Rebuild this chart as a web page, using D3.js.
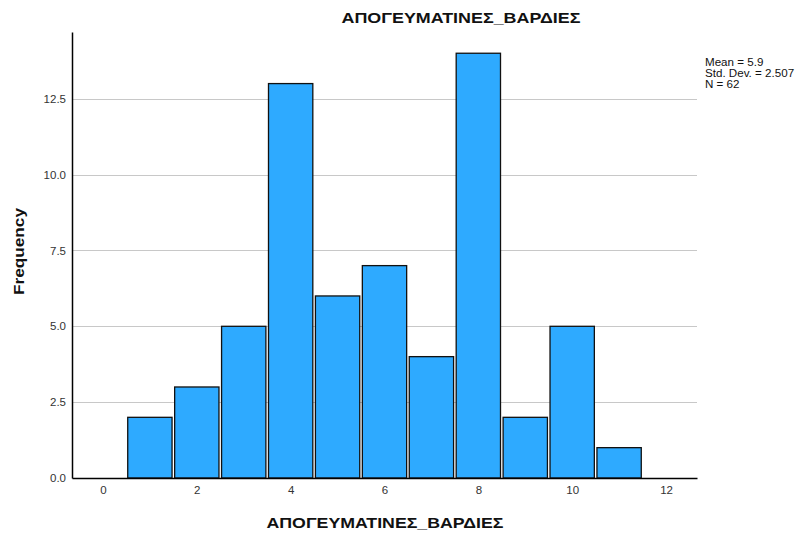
<!DOCTYPE html>
<html>
<head>
<meta charset="utf-8">
<script src="https://cdn.jsdelivr.net/npm/d3@7"></script>
<style>
  html, body { margin: 0; padding: 0; background: #fff; }
  svg { display: block; font-family: Arial, "Liberation Sans", sans-serif; }
</style>
</head>
<body>
<svg id="chart" width="798" height="536"></svg>
<script>
// Histogram data: value bins and their frequencies
const binValues = [1, 2, 3, 4, 5, 6, 7, 8, 9, 10, 11];
const frequencies = [2, 3, 5, 13, 6, 7, 4, 14, 2, 5, 1];
const xTicks = [0, 2, 4, 6, 8, 10, 12];
const yTicks = [0, 2.5, 5, 7.5, 10, 12.5];
const statsLines = ["Mean = 5.9", "Std. Dev. = 2.507", "N = 62"];
const titleText = "ΑΠΟΓΕΥΜΑΤΙΝΕΣ_ΒΑΡΔΙΕΣ";
const yLabel = "Frequency";

const svg = d3.select("#chart");
const plot = { left: 72, right: 697, top: 32, bottom: 478 };

const x = d3.scaleLinear().domain([-0.66, 12.66]).range([plot.left, plot.right]);
const y = d3.scaleLinear().domain([0, 14.7]).range([plot.bottom, plot.top]);

// Horizontal grid lines
svg.append("g")
  .selectAll("line")
  .data(yTicks.filter(d => d > 0))
  .join("line")
  .attr("x1", plot.left).attr("x2", plot.right)
  .attr("y1", d => Math.round(y(d)) + 0.5).attr("y2", d => Math.round(y(d)) + 0.5)
  .attr("stroke", "#c8c8c8").attr("stroke-width", 1);

// Bars
const unit = x(1) - x(0);
const barW = unit - 2.6;
svg.append("g")
  .selectAll("rect")
  .data(binValues.map((v, i) => ({ v, f: frequencies[i] })))
  .join("rect")
  .attr("x", d => x(d.v) - barW / 2)
  .attr("width", barW)
  .attr("y", d => y(d.f))
  .attr("height", d => y(0) - y(d.f))
  .attr("fill", "#2eaaff")
  .attr("stroke", "#111")
  .attr("stroke-width", 1.3);

// Axes
const xAxis = d3.axisBottom(x).tickValues(xTicks).tickSize(0).tickPadding(8).tickFormat(d3.format("d"));
const gx = svg.append("g").attr("transform", `translate(0,${plot.bottom})`).call(xAxis);
gx.select(".domain").attr("stroke", "#000").attr("stroke-width", 1.5);
gx.selectAll("text").attr("font-size", 11.5).attr("fill", "#333").attr("font-family", "Arial, 'Liberation Sans', sans-serif");

const yAxis = d3.axisLeft(y).tickValues(yTicks).tickSize(0).tickPadding(6).tickFormat(d3.format(".1f"));
const gy = svg.append("g").attr("transform", `translate(${plot.left},0)`).call(yAxis);
gy.select(".domain").attr("stroke", "#000").attr("stroke-width", 1.5);
gy.selectAll("text").attr("font-size", 11.5).attr("fill", "#333").attr("font-family", "Arial, 'Liberation Sans', sans-serif");

// Title
svg.append("text")
  .attr("x", 461).attr("y", 23)
  .attr("text-anchor", "middle")
  .attr("font-size", 14.5).attr("font-weight", "bold").attr("fill", "#111")
  .attr("textLength", 239).attr("lengthAdjust", "spacingAndGlyphs")
  .text(titleText);

// Axis titles
svg.append("text")
  .attr("x", 385).attr("y", 528)
  .attr("text-anchor", "middle")
  .attr("font-size", 14.5).attr("font-weight", "bold").attr("fill", "#111")
  .attr("textLength", 237).attr("lengthAdjust", "spacingAndGlyphs")
  .text(titleText);

svg.append("text")
  .attr("transform", "translate(24,251.5) rotate(-90)")
  .attr("text-anchor", "middle")
  .attr("font-size", 15).attr("font-weight", "bold").attr("fill", "#111")
  .attr("textLength", 87).attr("lengthAdjust", "spacingAndGlyphs")
  .text(yLabel);

// Summary statistics, drawn slightly widened
svg.append("g")
  .selectAll("text")
  .data(statsLines)
  .join("text")
  .attr("x", 705).attr("y", (d, i) => 66 + i * 11)
  .attr("font-size", 10).attr("fill", "#111")
  .text(d => d)
  .each(function () {
    const len = this.getComputedTextLength();
    d3.select(this).attr("textLength", len * 1.16).attr("lengthAdjust", "spacingAndGlyphs");
  });
</script>
</body>
</html>
